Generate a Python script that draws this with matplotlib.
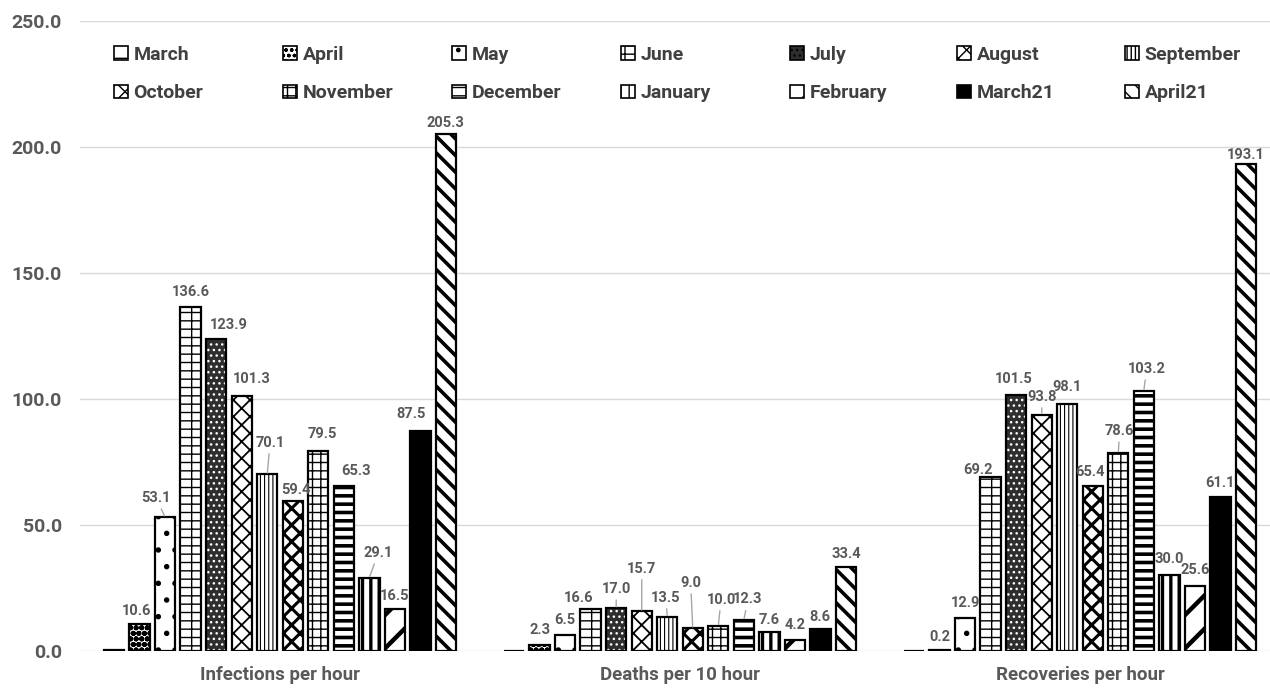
import matplotlib.pyplot as plt
import numpy as np
from matplotlib.patches import Patch

plt.rcParams['font.family'] = ['Roboto', 'DejaVu Sans']

groups = ["Infections per hour", "Deaths per 10 hour", "Recoveries per hour"]
months = ["March", "April", "May", "June", "July", "August", "September",
          "October", "November", "December", "January", "February", "March21", "April21"]

infections = [0.3, 10.6, 53.1, 136.6, 123.9, 101.3, 70.1, 59.4, 79.5, 65.3, 29.1, 16.5, 87.5, 205.3]
deaths = [0.1, 2.3, 6.5, 16.6, 17.0, 15.7, 13.5, 9.0, 10.0, 12.3, 7.6, 4.2, 8.6, 33.4]
recoveries = [0.1, 0.2, 12.9, 69.2, 101.5, 93.8, 98.1, 65.4, 78.6, 103.2, 30.0, 25.6, 61.1, 193.1]

# fill, hatch, hatch colour, hatch line width per month
faces = ["white", "white", "white", "white", "#2e2e2e", "white", "white",
         "white", "white", "white", "white", "white", "black", "white"]
hatches = ["-", "ooo", ".", "--|", "...", "xx", "||||", "xx", "++", "--",
           "||", "/", None, "\\\\"]
hatch_colors = ["black"] * 4 + ["white"] + ["black"] * 9
hatch_lw = [1.5, 2.0, 1.5, 1.0, 1.0, 1.3, 0.8, 2.2, 1.0, 2.6, 2.4, 3.2, 1.5, 2.6]

# data label placement (dx, dy in points from bar top to baseline, leader line)
label_pos = {
    (0, 1): (-2, 7, False), (0, 2): (-6.5, 11, True), (0, 3): (0, 8, False),
    (0, 4): (9, 7, False), (0, 5): (7, 9, False), (0, 6): (2, 20, True),
    (0, 7): (2, 5, False), (0, 8): (3, 9, False), (0, 9): (9, 8, False),
    (0, 10): (6.5, 15, True), (0, 11): (0, 7, False), (0, 12): (-6.5, 9, False),
    (0, 13): (0, 5, False),
    (1, 1): (0, 8, False), (1, 2): (0, 8, False), (1, 3): (-9, 5, False),
    (1, 4): (0, 11, True), (1, 5): (0, 28, True), (1, 6): (-1, 11, True),
    (1, 7): (-1.5, 30, True), (1, 8): (2, 16, True), (1, 9): (3, 12, True),
    (1, 10): (0, 6, False), (1, 11): (0, 8, False), (1, 12): (0, 6, False),
    (1, 13): (0, 6.5, False),
    (2, 1): (0, 7, False), (2, 2): (0, 8, False), (2, 3): (-9, 2, False),
    (2, 4): (-2, 9, False), (2, 5): (0, 10, True), (2, 6): (0, 9, False),
    (2, 7): (-2, 7, False), (2, 8): (1, 13, True), (2, 9): (2, 13, True),
    (2, 10): (0, 9, False), (2, 11): (0, 9, False), (2, 12): (0, 7, False),
    (2, 13): (0, 4, False),
}

data = np.array([infections, deaths, recoveries])
x = np.arange(len(groups))
slot = 0.0638
width = 0.051

fig = plt.figure(figsize=(12.7, 7), dpi=100)
ax = fig.add_axes([0.063, 0.07, 0.937, 0.9])

label_color = "#595959"
for i, m in enumerate(months):
    pos = x + (i - 6.5) * slot
    with plt.rc_context({"hatch.linewidth": hatch_lw[i]}):
        ax.bar(pos, data[:, i], width, color=faces[i], edgecolor=hatch_colors[i],
               linewidth=0, hatch=hatches[i], zorder=3)
    ax.bar(pos, data[:, i], width, facecolor="none", edgecolor="black",
           linewidth=1.6, zorder=3)
    if i == 0:
        continue
    for g in range(len(groups)):
        v = data[g, i]
        dx, dy, leader = label_pos.get((g, i), (0, 7, False))
        ax.annotate(f"{v:.1f}", xy=(pos[g], v), xytext=(dx, dy),
                    textcoords="offset points", ha="center", va="baseline",
                    fontsize=10.5, fontweight="bold", color=label_color,
                    arrowprops=dict(arrowstyle="-", color="#a6a6a6", lw=1,
                                    shrinkA=1, shrinkB=1) if leader else None,
                    zorder=4)

ax.set_ylim(0, 250)
ax.set_xlim(-0.5, 2.475)
ax.set_yticks(np.arange(0, 251, 50))
ax.set_yticklabels([f"{t:.1f}" for t in np.arange(0, 251, 50)])
ax.set_xticks(x)
ax.set_xticklabels(groups)
ax.grid(axis="y", color="#d9d9d9", linewidth=1, zorder=0)
for s in ax.spines.values():
    s.set_visible(False)
ax.tick_params(axis="both", length=0, colors=label_color, labelsize=14)
ax.tick_params(axis="x", labelsize=13.5, pad=11)
ax.tick_params(axis="y", pad=13)
for t in ax.get_xticklabels() + ax.get_yticklabels():
    t.set_fontweight("bold")

# legend: 7 equally spaced columns of 2 rows, like the spreadsheet legend
legend_handles = []
for i in range(len(months)):
    with plt.rc_context({"hatch.linewidth": min(hatch_lw[i], 1.5)}):
        legend_handles.append(Patch(facecolor=faces[i], edgecolor="black",
                                    hatch=hatches[i], linewidth=1.2))
col_x = [114, 283, 452, 621, 790, 957, 1125]
for j, cx in enumerate(col_x):
    idx = [j, j + 7]
    leg = fig.legend([legend_handles[k] for k in idx], [months[k] for k in idx],
                     loc="upper left", bbox_to_anchor=(cx / 1270, 1 - 46 / 700),
                     frameon=False, handlelength=0.7, handleheight=0.7,
                     handletextpad=0.3, labelspacing=1.05, borderpad=0, borderaxespad=0,
                     prop={"weight": "bold", "size": 14})
    for t in leg.get_texts():
        t.set_color("#404040")

fig.savefig("out.png", dpi=100, facecolor="white")
